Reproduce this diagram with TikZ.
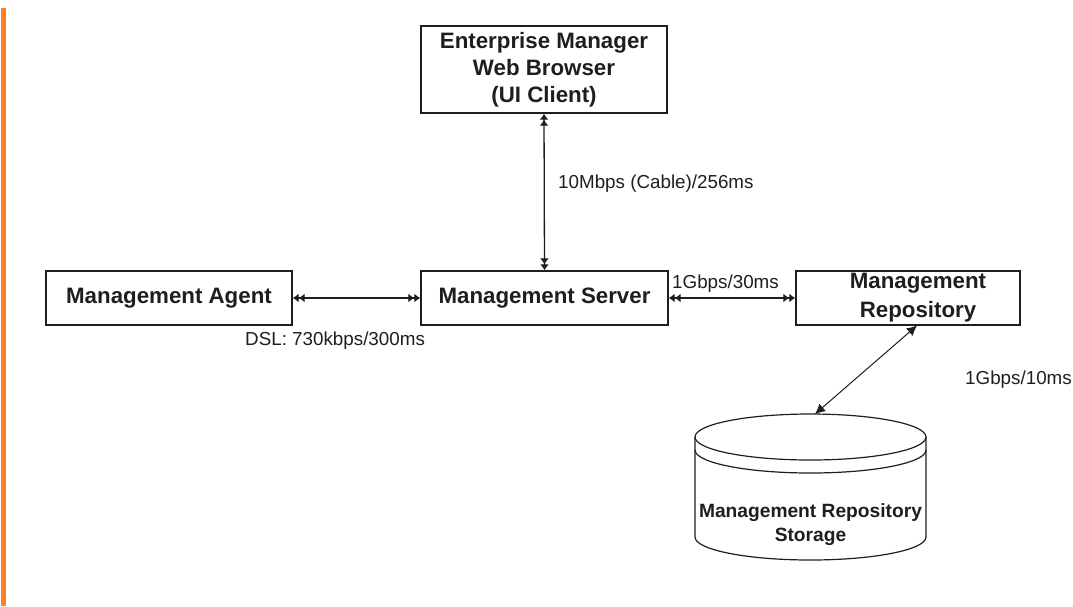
\documentclass[tikz,border=0pt]{standalone}
\usepackage{fontspec}
\setmainfont{Liberation Sans}
\usetikzlibrary{arrows.meta}
\definecolor{barorange}{RGB}{255,128,38}
\definecolor{ink}{RGB}{30,30,30}
\tikzset{
  box/.style={draw=ink, line width=1.4pt, rectangle, inner sep=0pt, text=ink,
    font=\fontsize{22.3}{27}\selectfont\bfseries, align=center},
  lbl/.style={inner sep=0pt, anchor=west, text=ink, font=\fontsize{18.8}{22}\selectfont},
  dblarrow/.style={draw=ink, line width=1.3pt,
    {Latex[length=6pt,width=9pt]Latex[length=6pt,width=9pt]}-{Latex[length=6pt,width=9pt]Latex[length=6pt,width=9pt]}},
  sglarrow/.style={draw=ink, line width=1.0pt,
    {Latex[length=10pt,width=10pt]}-{Latex[length=10pt,width=10pt]}},
  cyl/.style={draw=ink, line width=1.2pt}
}
\begin{document}
\begin{tikzpicture}[x=1pt,y=-1pt]
\useasboundingbox (0,0) rectangle (1073,606);
\fill[barorange] (1,8) rectangle (6,606);

\node[box, minimum width=246pt, minimum height=87pt] (ui) at (544,69.5)
  {Enterprise Manager\\Web Browser\\(UI Client)};
\node[box, minimum width=246pt, minimum height=54pt] (agent) at (169,298)
  {Management Agent};
\node[box, minimum width=247pt, minimum height=54pt] (server) at (544.5,298)
  {Management Server};
\node[box, minimum width=224pt, minimum height=54pt,
  font=\fontsize{22.3}{29}\selectfont\bfseries] (repo) at (908,298)
  {\hspace*{20pt}Management\\\hspace*{20pt}Repository};

% cylinder
\draw[cyl] (695,437) arc[start angle=180, end angle=-180, x radius=115.5pt, y radius=23pt];
\draw[cyl] (695,450) arc[start angle=180, end angle=360, x radius=115.5pt, y radius=23pt];
\draw[cyl] (695,437) -- (695,537) arc[start angle=180, end angle=360, x radius=115.5pt, y radius=23pt] -- (926,437);
\node[inner sep=0pt, text=ink, align=center, font=\fontsize{19.2}{24}\selectfont\bfseries] (storage) at (810.5,525)
  {Management Repository\\Storage};
\coordinate (storagetop) at (815,414);
\coordinate (repobot) at (917,325.5);

\draw[dblarrow] (ui.south) -- (server.north);
\draw[dblarrow] (agent.east) -- (server.west);
\draw[dblarrow] (server.east) -- (repo.west);
\draw[sglarrow] (repobot) -- (storagetop);

\node[lbl] (l1) at (558,184) {10Mbps (Cable)/256ms};
\node[lbl] (l2) at (672,284) {1Gbps/30ms};
\node[lbl] (l3) at (245,341) {DSL: 730kbps/300ms};
\node[lbl] (l4) at (965,380) {1Gbps/10ms};
\end{tikzpicture}
\end{document}
